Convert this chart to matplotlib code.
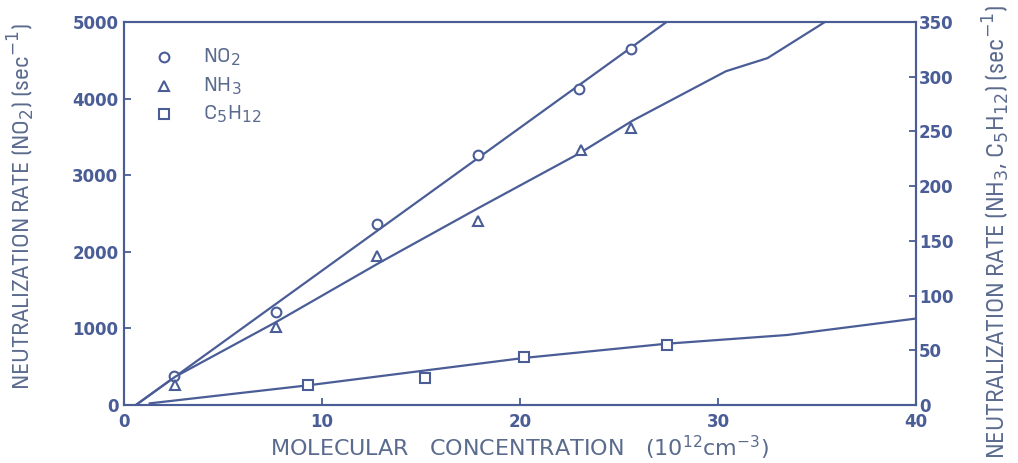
import matplotlib
matplotlib.use("Agg")
import matplotlib.pyplot as plt
from matplotlib import font_manager
from matplotlib.font_manager import FontProperties

# ---- data ----
no2_x = [2.5, 7.7, 12.8, 17.9, 23.0, 25.6]
no2_y = [380, 1220, 2360, 3260, 4130, 4650]          # left axis
nh3_x = [2.6, 7.7, 12.8, 17.9, 23.1, 25.6]
nh3_y = [18, 71, 136, 168, 233, 253]                 # right axis
c5_x = [9.3, 15.2, 20.2, 27.4]
c5_y = [18, 25, 44, 55]                              # right axis

# hand-drawn curves through the points
no2_fit_x = [0.6, 27.4]
no2_fit_y = [0, 5000]
nh3_fit_x = [0.6, 2.6, 7.7, 12.9, 17.9, 23.0, 25.7, 30.4, 32.5, 35.4]
nh3_fit_y = [0, 26, 76, 130, 180, 230, 260, 305, 317, 350]
c5_fit_x = [1.3, 9.3, 20.2, 27.4, 33.5, 40.0]
c5_fit_y = [1.5, 18, 43, 56, 64, 79]

left_ticks = [0, 1000, 2000, 3000, 4000, 5000]
right_ticks = [0, 50, 100, 150, 200, 250, 300, 350]
x_ticks = [0, 10, 20, 30, 40]

C = "#4a5d96"
TXT = "#5b6b8e"

# condensed face for the labels if one is installed
cond = None
for f in font_manager.fontManager.ttflist:
    fn = f.fname.lower()
    if ("condensed" in fn or "narrow" in fn) and "bold" not in fn and "oblique" not in fn and "italic" not in fn:
        if cond is None or "sans" in fn:
            cond = f.fname
def lab_font(size):
    if cond:
        return FontProperties(fname=cond, size=size)
    return FontProperties(family="DejaVu Sans", size=size)

fig = plt.figure(figsize=(10.18, 4.63), dpi=100)
ax = fig.add_axes([124/1018, 1-405/463, (916-124)/1018, (405-22)/463])
ax2 = ax.twinx()

ax.plot(no2_fit_x, no2_fit_y, color=C, lw=1.6)
ax.plot(no2_x, no2_y, 'o', ms=7, mfc='white', mec=C, mew=1.5, clip_on=False)
ax2.plot(nh3_fit_x, nh3_fit_y, color=C, lw=1.6)
ax2.plot(nh3_x, nh3_y, '^', ms=7, mfc='white', mec=C, mew=1.5)
ax2.plot(c5_fit_x, c5_fit_y, color=C, lw=1.6)
ax2.plot(c5_x, c5_y, 's', ms=6.5, mfc='white', mec=C, mew=1.5)

ax.set_xlim(0, 40)
ax.set_ylim(0, 5000)
ax2.set_ylim(0, 350)
ax.set_xticks(x_ticks)
ax.set_yticks(left_ticks)
ax2.set_yticks(right_ticks)

for a in (ax, ax2):
    for s in a.spines.values():
        s.set_color(C)
        s.set_linewidth(1.5)
    a.tick_params(direction='in', length=5, width=1.3, color=C, labelcolor=C,
                  labelsize=12)
ax.tick_params(axis='x', pad=6)
ax.tick_params(axis='y', pad=4)
ax2.tick_params(axis='y', pad=2)

for lab in ax.get_xticklabels() + ax.get_yticklabels() + ax2.get_yticklabels():
    lab.set_fontweight('bold')

ax.set_xlabel("MOLECULAR   CONCENTRATION   (10$^{12}$cm$^{-3}$)", color=TXT,
              family="DejaVu Sans", fontsize=16, labelpad=2)
fig.text(0.021, 0.553, "NEUTRALIZATION RATE (NO$_2$) (sec$^{-1}$)", rotation=90,
         ha='center', va='center', color=TXT, fontproperties=lab_font(17.5))
fig.text(0.979, 0.50, "NEUTRALIZATION RATE (NH$_3$, C$_5$H$_{12}$) (sec$^{-1}$)",
         rotation=90, ha='center', va='center', color=TXT, fontproperties=lab_font(18))

# legend
leg_x_m, leg_x_t = 2.0, 4.0
for yv, mk, ms, lab in [(4543, 'o', 7, "NO$_2$"), (4164, '^', 7, "NH$_3$"),
                        (3799, 's', 6.5, "C$_5$H$_{12}$")]:
    ax.plot([leg_x_m], [yv], mk, ms=ms, mfc='white', mec=C, mew=1.5)
    ax.text(leg_x_t, yv, lab, color=TXT, va='center', fontproperties=lab_font(16))

fig.savefig("out.png", dpi=100)
